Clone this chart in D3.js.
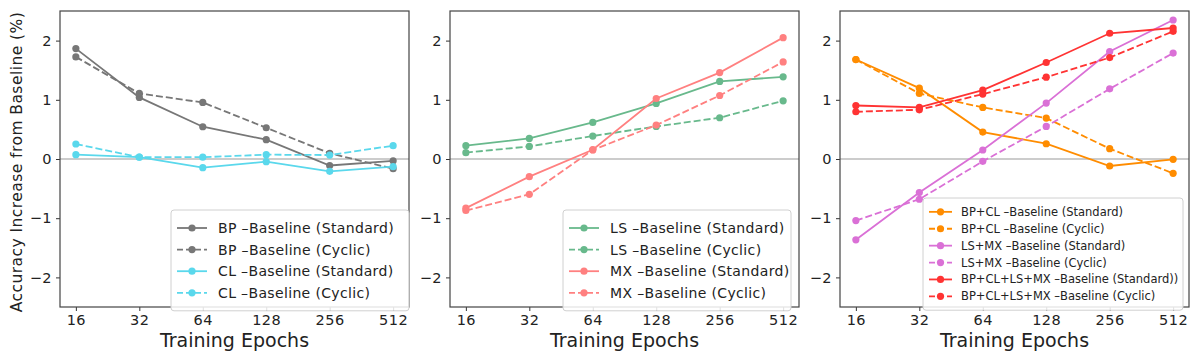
<!DOCTYPE html>
<html lang="en">
<head>
<meta charset="UTF-8">
<title>Accuracy Increase from Baseline</title>
<script src="https://d3js.org/d3.v7.min.js"></script>
<style>
  body { margin: 0; background: #fff; font-family: "DejaVu Sans", sans-serif; }
  svg text { fill: #222; }
</style>
</head>
<body>
<svg id="chart" width="1200" height="364"></svg>
<script>
// epochs on the x axis
const epochs = [16, 32, 64, 128, 256, 512];
const yTicks = [-2, -1, 0, 1, 2];

// panel 1
const bpStandard = [1.865, 1.04, 0.545, 0.326, -0.11, -0.03];
const bpCyclic   = [1.725, 1.107, 0.955, 0.528, 0.096, -0.163];
const clStandard = [0.073, 0.03, -0.146, -0.045, -0.208, -0.13];
const clCyclic   = [0.253, 0.03, 0.03, 0.073, 0.067, 0.225];

// panel 2
const lsStandard = [0.225, 0.348, 0.618, 0.938, 1.31, 1.388];
const lsCyclic   = [0.107, 0.213, 0.388, 0.55, 0.697, 0.983];
const mxStandard = [-0.83, -0.298, 0.157, 1.022, 1.46, 2.05];
const mxCyclic   = [-0.87, -0.596, 0.152, 0.573, 1.073, 1.64];

// panel 3
const bpclStandard = [1.68, 1.197, 0.455, 0.258, -0.118, -0.006];
const bpclCyclic   = [1.68, 1.107, 0.871, 0.691, 0.174, -0.242];
const lsmxStandard = [-1.365, -0.567, 0.152, 0.944, 1.815, 2.348];
const lsmxCyclic   = [-1.04, -0.68, -0.04, 0.55, 1.185, 1.79];
const allStandard  = [0.904, 0.871, 1.163, 1.63, 2.124, 2.213];
const allCyclic    = [0.798, 0.831, 1.096, 1.382, 1.713, 2.157];

const panels = [
  {
    left: 60, legend: {x: 171, y: 210, w: 238, rowH: 21.6, font: 14, pad: 12},
    series: [
      {label: "BP \u2013Baseline (Standard)", values: bpStandard, color: "#777777", dash: false},
      {label: "BP \u2013Baseline (Cyclic)", values: bpCyclic, color: "#777777", dash: true},
      {label: "CL \u2013Baseline (Standard)", values: clStandard, color: "#5ad8ec", dash: false},
      {label: "CL \u2013Baseline (Cyclic)", values: clCyclic, color: "#5ad8ec", dash: true}
    ]
  },
  {
    left: 450, legend: {x: 563, y: 210, w: 228, rowH: 21.6, font: 14, pad: 12},
    series: [
      {label: "LS \u2013Baseline (Standard)", values: lsStandard, color: "#68b98c", dash: false},
      {label: "LS \u2013Baseline (Cyclic)", values: lsCyclic, color: "#68b98c", dash: true},
      {label: "MX \u2013Baseline (Standard)", values: mxStandard, color: "#ff8080", dash: false},
      {label: "MX \u2013Baseline (Cyclic)", values: mxCyclic, color: "#ff8080", dash: true}
    ]
  },
  {
    left: 840, legend: {x: 923, y: 198, w: 260, rowH: 16.9, font: 11.5, pad: 9},
    series: [
      {label: "BP+CL \u2013Baseline (Standard)", values: bpclStandard, color: "#ff8c00", dash: false},
      {label: "BP+CL \u2013Baseline (Cyclic)", values: bpclCyclic, color: "#ff8c00", dash: true},
      {label: "LS+MX \u2013Baseline (Standard)", values: lsmxStandard, color: "#da70d6", dash: false},
      {label: "LS+MX \u2013Baseline (Cyclic)", values: lsmxCyclic, color: "#da70d6", dash: true},
      {label: "BP+CL+LS+MX \u2013Baseline (Standard))", values: allStandard, color: "#ff3333", dash: false},
      {label: "BP+CL+LS+MX \u2013Baseline (Cyclic)", values: allCyclic, color: "#ff3333", dash: true}
    ]
  }
];

const plotTop = 11, plotBottom = 307, panelW = 349;
const svg = d3.select("#chart");

// matplotlib-like 5% margin on a log2 axis
const lo = Math.log2(16) - 0.25, hi = Math.log2(512) + 0.25;

panels.forEach(p => {
  const x = d3.scaleLog().base(2)
    .domain([Math.pow(2, lo), Math.pow(2, hi)])
    .range([p.left, p.left + panelW]);
  const y = d3.scaleLinear().domain([-2.5, 2.5]).range([plotBottom, plotTop]);

  const g = svg.append("g");

  // zero line
  g.append("line")
    .attr("x1", p.left).attr("x2", p.left + panelW)
    .attr("y1", y(0)).attr("y2", y(0))
    .attr("stroke", "#999").attr("stroke-width", 1.2);

  // axes
  const xAxis = g.append("g")
    .attr("transform", `translate(0,${plotBottom})`)
    .call(d3.axisBottom(x).tickValues(epochs).tickFormat(d3.format("d")).tickSize(4).tickPadding(4));
  const yAxis = g.append("g")
    .attr("transform", `translate(${p.left},0)`)
    .call(d3.axisLeft(y).tickValues(yTicks).tickFormat(d => d < 0 ? "\u2212" + Math.abs(d) : d).tickSize(4).tickPadding(4));
  [xAxis, yAxis].forEach(a => {
    a.select(".domain").remove();
    a.selectAll("line").attr("stroke", "#333");
    a.selectAll("text").attr("font-size", 14.5).attr("font-family", "DejaVu Sans")
      .attr("letter-spacing", 0.5).attr("fill", "#222");
  });

  // frame
  g.append("rect")
    .attr("x", p.left).attr("y", plotTop)
    .attr("width", panelW).attr("height", plotBottom - plotTop)
    .attr("fill", "none").attr("stroke", "#444").attr("stroke-width", 1.2);

  // lines and markers
  const line = d3.line().x((d, i) => x(epochs[i])).y(d => y(d));
  p.series.forEach(s => {
    g.append("path")
      .attr("d", line(s.values))
      .attr("fill", "none")
      .attr("stroke", s.color)
      .attr("stroke-width", 1.8)
      .attr("stroke-dasharray", s.dash ? "7,3" : null);
    g.selectAll(null).data(s.values).enter().append("circle")
      .attr("cx", (d, i) => x(epochs[i]))
      .attr("cy", d => y(d))
      .attr("r", 3.6)
      .attr("fill", s.color);
  });

  // legend
  const L = p.legend;
  const n = p.series.length;
  const lg = g.append("g");
  lg.append("rect")
    .attr("x", L.x).attr("y", L.y)
    .attr("width", L.w).attr("height", L.pad * 0.6 * 2 + n * L.rowH)
    .attr("rx", 3)
    .attr("fill", "#fff").attr("fill-opacity", 0.85)
    .attr("stroke", "#d0d0d0");
  p.series.forEach((s, i) => {
    const cy = L.y + L.pad * 0.6 + L.rowH * (i + 0.5);
    const x0 = L.x + 6, x1 = L.x + (L.font > 13 ? 36 : 29);
    lg.append("line")
      .attr("x1", x0).attr("x2", x1).attr("y1", cy).attr("y2", cy)
      .attr("stroke", s.color).attr("stroke-width", 1.8)
      .attr("stroke-dasharray", s.dash ? "6,3" : null);
    lg.append("circle")
      .attr("cx", (x0 + x1) / 2).attr("cy", cy).attr("r", 3.6).attr("fill", s.color);
    lg.append("text")
      .attr("x", x1 + (L.font > 13 ? 11 : 9)).attr("y", cy)
      .attr("dy", "0.35em")
      .attr("font-size", L.font)
      .attr("letter-spacing", L.font > 13 ? 0.35 : 0)
      .text(s.label);
  });

  // x label
  g.append("text")
    .attr("x", p.left + panelW / 2).attr("y", 347)
    .attr("text-anchor", "middle")
    .attr("font-size", 19)
    .text("Training Epochs");
});

// y label
svg.append("text")
  .attr("transform", "translate(22,162) rotate(-90)")
  .attr("text-anchor", "middle")
  .attr("font-size", 15.5)
  .attr("letter-spacing", 0.45)
  .text("Accuracy Increase from Baseline (%)");
</script>
</body>
</html>
